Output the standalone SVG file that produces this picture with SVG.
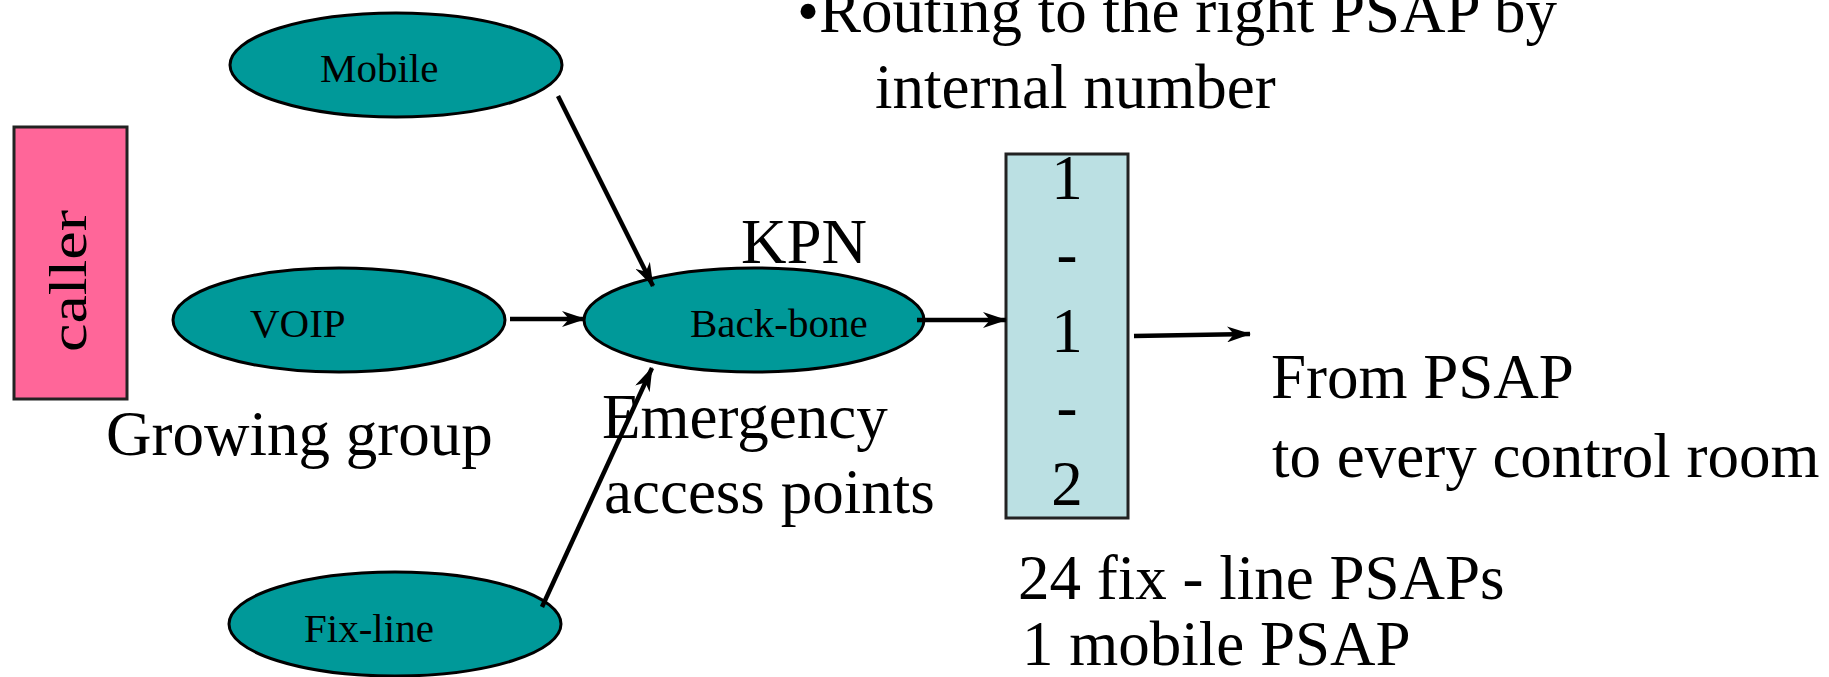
<svg xmlns="http://www.w3.org/2000/svg" width="1829" height="677" viewBox="0 0 1829 677">
  <style>
    text { font-family: "Liberation Serif", "Times New Roman", serif; fill: #000; }
    .big { font-size: 63px; }
    .small { font-size: 41px; }
    .node { fill: #009999; stroke: #000; stroke-width: 3; }
    .conn { stroke: #000; stroke-width: 4.5; fill: none; marker-end: url(#arr); }
  </style>
  <defs>
    <marker id="arr" markerUnits="userSpaceOnUse" viewBox="0 0 24 16" refX="23" refY="8" markerWidth="24" markerHeight="16" orient="auto">
      <path d="M0,0 L24,8 L0,16 L7,8 z" fill="#000"/>
    </marker>
  </defs>
  <rect width="1829" height="677" fill="#fff"/>

  <g id="caller">
    <rect x="14" y="127" width="113" height="272" fill="#FF6699" stroke="#222" stroke-width="3"/>
    <text transform="translate(86,352) rotate(-90)" x="0" y="0" font-size="52" textLength="142" lengthAdjust="spacingAndGlyphs">caller</text>
  </g>

  <g id="mobile">
    <ellipse class="node" cx="396" cy="65" rx="166" ry="52"/>
    <text class="small" x="320" y="82">Mobile</text>
  </g>

  <g id="voip">
    <ellipse class="node" cx="339" cy="320" rx="166" ry="52"/>
    <text class="small" x="250" y="337">VOIP</text>
  </g>

  <g id="fixline">
    <ellipse class="node" cx="395" cy="624" rx="166" ry="52"/>
    <text class="small" x="304" y="642">Fix-line</text>
  </g>

  <g id="backbone">
    <ellipse class="node" cx="754" cy="320" rx="170" ry="52"/>
    <text class="small" x="690" y="337">Back-bone</text>
  </g>

  <g id="psapbox">
    <rect x="1006" y="154" width="122" height="364" fill="#BBE0E3" stroke="#222" stroke-width="3"/>
    <text class="big" x="1067" y="199" text-anchor="middle">1</text>
    <text class="big" x="1067" y="275" text-anchor="middle">-</text>
    <text class="big" x="1067" y="352" text-anchor="middle">1</text>
    <text class="big" x="1067" y="428" text-anchor="middle">-</text>
    <text class="big" x="1067" y="505" text-anchor="middle">2</text>
  </g>

  <g id="labels">
    <text class="big" x="741" y="263">KPN</text>
    <text class="big" x="106" y="455">Growing group</text>
    <text class="big" x="602" y="438">Emergency</text>
    <text class="big" x="604" y="513">access points</text>
    <text class="big" x="797" y="32">•Routing to the right PSAP by</text>
    <text class="big" x="875" y="108">internal number</text>
    <text class="big" x="1271" y="398">From PSAP</text>
    <text class="big" x="1272" y="477">to every control room</text>
    <text class="big" x="1018" y="599">24 fix - line PSAPs</text>
    <text class="big" x="1022" y="665">1 mobile PSAP</text>
  </g>

  <g id="connectors">
    <line class="conn" x1="558" y1="96" x2="653" y2="286"/>
    <line class="conn" x1="510" y1="319" x2="585" y2="319"/>
    <line class="conn" x1="542" y1="607" x2="652" y2="368"/>
    <line class="conn" x1="917" y1="320" x2="1006" y2="320"/>
    <line class="conn" x1="1134" y1="336" x2="1250" y2="334"/>
  </g>
</svg>
